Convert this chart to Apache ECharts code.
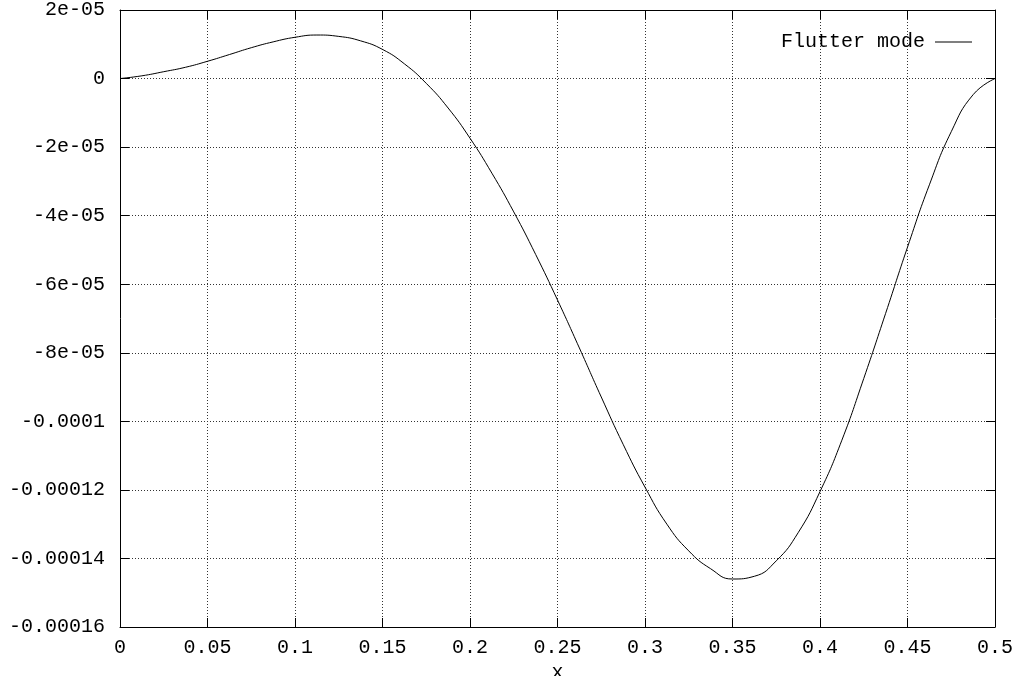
<!DOCTYPE html>
<html>
<head>
<meta charset="utf-8">
<script src="https://cdn.jsdelivr.net/npm/echarts@6/dist/echarts.min.js"></script>
<style>
html,body{margin:0;padding:0;background:#fff;}
#chart{width:1018px;height:676px;}
</style>
</head>
<body>
<div id="chart"></div>
<script>
// Data (x, deflection)
const xValues = [0, 0.0125, 0.025, 0.0375, 0.05, 0.0625, 0.075, 0.0875, 0.1, 0.1125, 0.125, 0.1375, 0.15, 0.1625, 0.175, 0.1875, 0.2, 0.2125, 0.225, 0.2375, 0.25, 0.2625, 0.275, 0.2875, 0.3, 0.3125, 0.325, 0.3375, 0.35, 0.3625, 0.375, 0.3875, 0.4, 0.4125, 0.425, 0.4375, 0.45, 0.4625, 0.475, 0.4875, 0.5];
const yValues = [0, 0.08e-5, 0.2e-5, 0.33e-5, 0.504e-5, 0.70e-5, 0.90e-5, 1.07e-5, 1.204e-5, 1.27e-5, 1.23e-5, 1.10e-5, 0.85e-5, 0.43e-5, -0.14e-5, -0.86e-5, -1.74e-5, -2.76e-5, -3.89e-5, -5.13e-5, -6.46e-5, -7.86e-5, -9.29e-5, -10.67e-5, -11.92e-5, -13.0e-5, -13.78e-5, -14.3e-5, -14.6e-5, -14.52e-5, -14.07e-5, -13.25e-5, -12.05e-5, -10.55e-5, -8.75e-5, -6.85e-5, -4.92e-5, -3.1e-5, -1.55e-5, -0.47e-5, 0];
const xTickLabels = ['0', '0.05', '0.1', '0.15', '0.2', '0.25', '0.3', '0.35', '0.4', '0.45', '0.5'];
const yTickLabels = ['-0.00016', '-0.00014', '-0.00012', '-0.0001', '-8e-05', '-6e-05', '-4e-05', '-2e-05', '0', '2e-05'];
const seriesName = 'Flutter mode';
const xAxisName = 'x';

const FONT = '"Liberation Mono", "Courier New", monospace';
const seriesData = xValues.map((x, i) => [x, yValues[i]]);

const gridLine = { show: true, lineStyle: { color: '#333', width: 1, type: [1, 2] } };
const axLine = { show: true, onZero: false, lineStyle: { color: '#000', width: 1 } };
const tick = { show: true, inside: true, length: 9, lineStyle: { color: '#000', width: 1 } };

const chart = echarts.init(document.getElementById('chart'), null, { renderer: 'canvas' });
chart.setOption({
  animation: false,
  backgroundColor: '#fff',
  textStyle: { fontFamily: FONT },
  grid: { left: 120, right: 23, top: 10, bottom: 49, containLabel: false, outerBoundsMode: 'none' },
  legend: {
    data: [{ name: seriesName, icon: 'rect' }],
    right: 41,
    top: 27,
    align: 'right',
    itemWidth: 37,
    itemHeight: 1,
    itemStyle: { color: '#000', borderWidth: 0 },
    lineStyle: { width: 0 },
    textStyle: { fontFamily: FONT, fontSize: 20, color: '#000', padding: [0, 5, 0, 0] }
  },
  xAxis: [{
    type: 'value', min: 0, max: 0.5, interval: 0.05,
    name: xAxisName, nameLocation: 'middle', nameGap: 30,
    nameTextStyle: { fontFamily: FONT, fontSize: 20, color: '#000' },
    axisLine: axLine, axisTick: tick, splitLine: gridLine,
    axisLabel: { fontFamily: FONT, fontSize: 20, color: '#000', margin: 11,
      formatter: (v, i) => xTickLabels[i] }
  }, {
    type: 'value', position: 'top', min: 0, max: 0.5, interval: 0.05,
    axisLine: axLine, axisTick: tick, splitLine: { show: false }, axisLabel: { show: false }
  }],
  yAxis: [{
    type: 'value', min: -16e-5, max: 2e-5, interval: 2e-5,
    axisLine: axLine, axisTick: tick, splitLine: gridLine,
    axisLabel: { fontFamily: FONT, fontSize: 20, color: '#000', margin: 15,
      formatter: (v, i) => yTickLabels[i] }
  }, {
    type: 'value', position: 'right', min: -16e-5, max: 2e-5, interval: 2e-5,
    axisLine: axLine, axisTick: tick, splitLine: { show: false }, axisLabel: { show: false }
  }],
  series: [{
    name: seriesName,
    type: 'line',
    data: seriesData,
    symbol: 'none',
    smooth: 0.5,
    lineStyle: { color: '#000', width: 1 },
    itemStyle: { color: '#000' }
  }]
});
</script>
</body>
</html>
